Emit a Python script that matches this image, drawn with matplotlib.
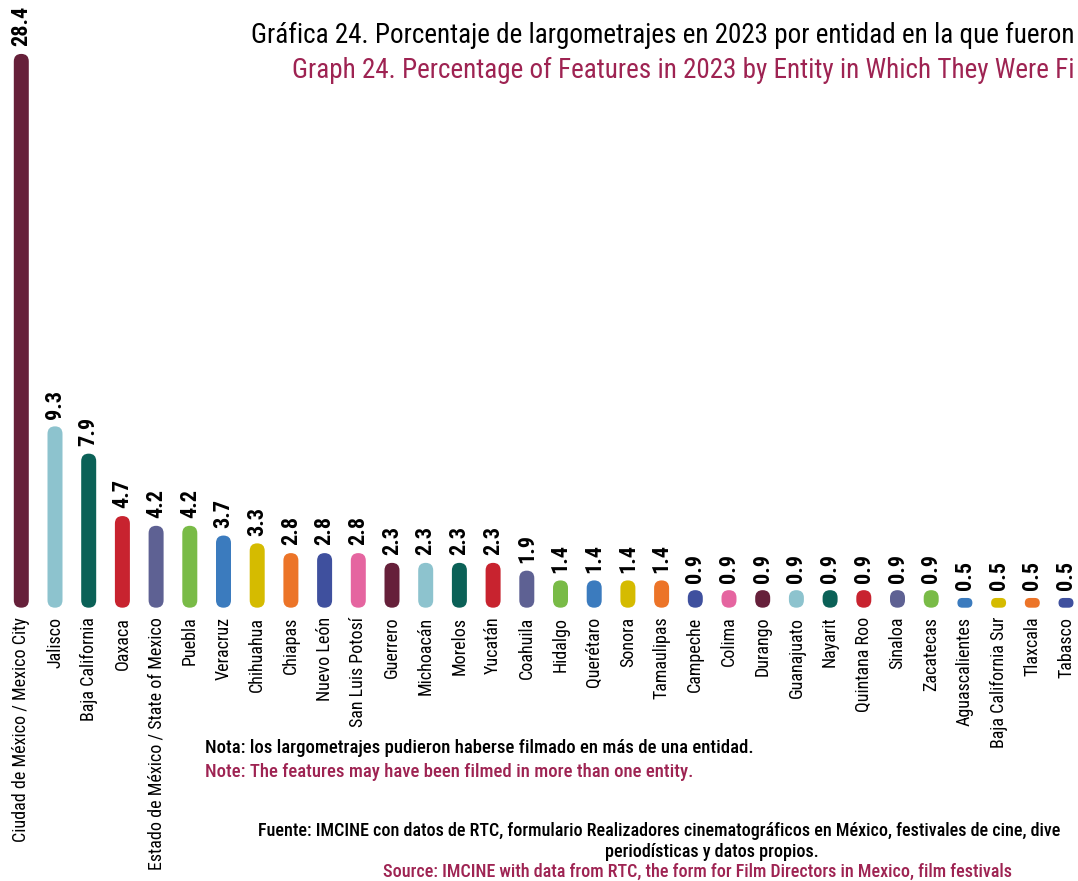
import matplotlib
matplotlib.use("Agg")
import matplotlib.pyplot as plt
from matplotlib import font_manager
from matplotlib.patches import FancyBboxPatch

# data
entidades = [
    "Ciudad de México / Mexico City", "Jalisco", "Baja California", "Oaxaca",
    "Estado de México / State of Mexico", "Puebla", "Veracruz", "Chihuahua",
    "Chiapas", "Nuevo León", "San Luis Potosí", "Guerrero", "Michoacán",
    "Morelos", "Yucatán", "Coahuila", "Hidalgo", "Querétaro", "Sonora",
    "Tamaulipas", "Campeche", "Colima", "Durango", "Guanajuato", "Nayarit",
    "Quintana Roo", "Sinaloa", "Zacatecas", "Aguascalientes",
    "Baja California Sur", "Tlaxcala", "Tabasco",
]
porcentajes = [
    28.4, 9.3, 7.9, 4.7, 4.2, 4.2, 3.7, 3.3, 2.8, 2.8, 2.8, 2.3, 2.3, 2.3,
    2.3, 1.9, 1.4, 1.4, 1.4, 1.4, 0.9, 0.9, 0.9, 0.9, 0.9, 0.9, 0.9, 0.9,
    0.5, 0.5, 0.5, 0.5,
]
paleta = ["#66203A", "#8DC3CE", "#0B6157", "#C8232F", "#5E6193", "#79BB47",
          "#3B7BBE", "#D5BB00", "#EC7428", "#3F509E", "#E565A0"]

MAGENTA = "#9E2352"

# pick a condensed font if one is there
installed = {f.name for f in font_manager.fontManager.ttflist}
fam = "DejaVu Sans"
for cand in ["Roboto Condensed", "Liberation Sans Narrow", "Open Sans Condensed",
             "Noto Sans", "Liberation Sans"]:
    if cand in installed:
        fam = cand
        break
plt.rcParams["font.family"] = [fam, "DejaVu Sans"]

W, H = 1078, 881
fig = plt.figure(figsize=(W / 100, H / 100), dpi=100)
ax = fig.add_axes([0, 0, 1, 1])

x0_px, dx_px = 21.3, 33.7        # first bar centre, spacing
y0_px, dy_px = 607.7, 19.5       # baseline (from top), px per unit
ax.set_xlim(-x0_px / dx_px, (W - x0_px) / dx_px)
ax.set_ylim(-(H - y0_px) / dy_px, y0_px / dy_px)
ax.axis("off")

bar_w = 15 / dx_px
aspect = dx_px / dy_px

for i, (nombre, v) in enumerate(zip(entidades, porcentajes)):
    r = min(bar_w / 2, v / aspect / 2)
    patch = FancyBboxPatch((i - bar_w / 2, 0), bar_w, v,
                           boxstyle=f"round,pad=0,rounding_size={r}",
                           mutation_aspect=aspect,
                           facecolor=paleta[i % len(paleta)], edgecolor="none")
    ax.add_patch(patch)
    ax.annotate(f"{v:.1f}", (i, v), xytext=(0, 5.5), textcoords="offset points",
                rotation=90, ha="center", va="bottom", fontsize=16,
                fontweight="bold", color="black")
    ax.annotate(nombre, (i, 0), xytext=(0, -6.5), textcoords="offset points",
                rotation=90, ha="center", va="top", fontsize=13, color="black")

# titles (the reference crops them at the right edge)
fig.text(251 / W, 1 - 35 / H,
         "Gráfica 24. Porcentaje de largometrajes en 2023 por entidad en la que fueron",
         fontsize=19.5, color="black", ha="left", va="center")
fig.text(292 / W, 1 - 70 / H,
         "Graph 24. Percentage of Features in 2023 by Entity in Which They Were Fi",
         fontsize=19.5, color=MAGENTA, ha="left", va="center")

fig.text(205 / W, 1 - 748 / H,
         "Nota: los largometrajes pudieron haberse filmado en más de una entidad.",
         fontsize=13.5, fontweight="medium", color="black", ha="left", va="center")
fig.text(205 / W, 1 - 772 / H,
         "Note: The features may have been filmed in more than one entity.",
         fontsize=13.5, fontweight="medium", color=MAGENTA, ha="left", va="center")

fig.text(258 / W, 1 - 831 / H,
         "Fuente: IMCINE con datos de RTC, formulario Realizadores cinematográficos en México, "
         "festivales de cine, dive",
         fontsize=13, fontweight="medium", color="black", ha="left", va="center")
fig.text(712 / W, 1 - 852 / H, "periodísticas y datos propios.",
         fontsize=13, fontweight="medium", color="black", ha="center", va="center")
fig.text(383 / W, 1 - 872 / H,
         "Source: IMCINE with data from RTC, the form for Film Directors in Mexico, film festivals",
         fontsize=13, fontweight="medium", color=MAGENTA, ha="left", va="center")

fig.savefig("out.png", dpi=100)
